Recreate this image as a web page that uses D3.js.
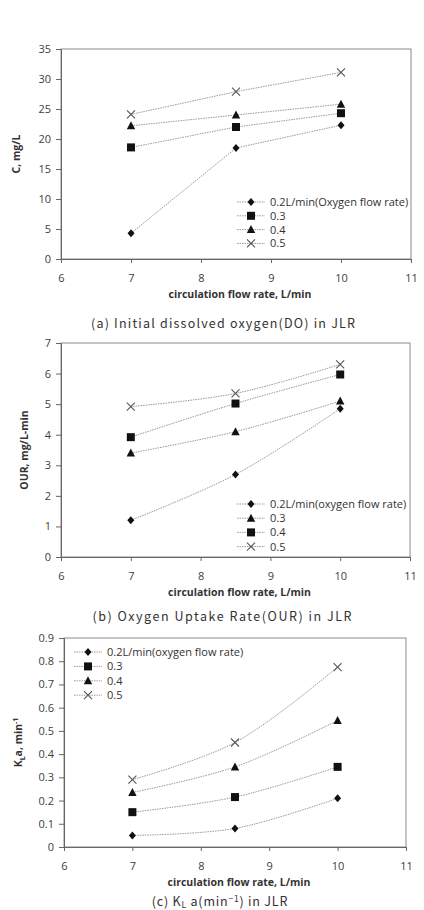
<!DOCTYPE html>
<html><head><meta charset="utf-8">
<script src="https://cdn.jsdelivr.net/npm/d3@7"></script>
<style>
body{margin:0;background:#fff;}
svg{display:block;}
.tick text{font-family:"Open Sans","Liberation Sans",sans-serif;font-size:11px;fill:#404040;}
.axtitle{font-family:"Open Sans","Liberation Sans",sans-serif;font-size:10.5px;font-weight:bold;fill:#333;}
.leg{font-family:"Open Sans","Liberation Sans",sans-serif;font-size:11px;fill:#333;}
.cap{font-family:"Noto Sans CJK KR","Noto Sans",sans-serif;font-size:12.5px;fill:#333;}
.cap tspan{font-family:"Noto Sans CJK KR","Noto Sans",sans-serif;}
</style>
</head><body>
<script>
const xValues = [7, 8.5, 10];
const xTicks = [6, 7, 8, 9, 10, 11];

// (a) Initial dissolved oxygen
const aLabels = ["0.2L/min(Oxygen flow rate)", "0.3", "0.4", "0.5"];
const aMarkers = ["diamond", "square", "triangle", "x"];
const a02 = [4.3, 18.5, 22.3];
const a03 = [18.6, 22.0, 24.3];
const a04 = [22.2, 24.0, 25.8];
const a05 = [24.1, 27.9, 31.1];
const aYTicks = [0, 5, 10, 15, 20, 25, 30, 35];

// (b) Oxygen uptake rate
const bLabels = ["0.2L/min(oxygen flow rate)", "0.3", "0.4", "0.5"];
const bMarkers = ["diamond", "triangle", "square", "x"];
const b02 = [1.2, 2.7, 4.85];
const b03 = [3.4, 4.1, 5.1];
const b04 = [3.92, 5.02, 5.97];
const b05 = [4.92, 5.35, 6.3];
const bYTicks = [0, 1, 2, 3, 4, 5, 6, 7];

// (c) KLa
const cLabels = ["0.2L/min(oxygen flow rate)", "0.3", "0.4", "0.5"];
const cMarkers = ["diamond", "square", "triangle", "x"];
const c02 = [0.05, 0.08, 0.21];
const c03 = [0.15, 0.215, 0.345];
const c04 = [0.235, 0.345, 0.545];
const c05 = [0.29, 0.45, 0.775];
const cYTicks = [0, 0.1, 0.2, 0.3, 0.4, 0.5, 0.6, 0.7, 0.8, 0.9];

const svg = d3.select("body").append("svg").attr("width", 424).attr("height", 910);

function marker(g, type, x, y) {
  if (type === "diamond") {
    g.append("path").attr("d", `M${x},${y-4}L${x+3.5},${y}L${x},${y+4}L${x-3.5},${y}Z`).attr("fill", "#111");
  } else if (type === "square") {
    g.append("rect").attr("x", x-4).attr("y", y-4).attr("width", 8).attr("height", 8).attr("fill", "#111");
  } else if (type === "triangle") {
    g.append("path").attr("d", `M${x},${y-4.5}L${x+4.2},${y+3.5}L${x-4.2},${y+3.5}Z`).attr("fill", "#111");
  } else {
    g.append("path").attr("d", `M${x-4},${y-4}L${x+4},${y+4}M${x-4},${y+4}L${x+4},${y-4}`).attr("stroke", "#555").attr("stroke-width", 1.1).attr("fill", "none");
  }
}

function chart(o) {
  const x = d3.scaleLinear().domain([6, 11]).range([o.left, o.right]);
  const y = d3.scaleLinear().domain([o.yTicks[0], o.yTicks[o.yTicks.length-1]]).range([o.bottom, o.top]);
  const g = svg.append("g");
  g.append("rect").attr("x", o.left).attr("y", o.top).attr("width", o.right-o.left).attr("height", o.bottom-o.top)
    .attr("fill", "none").attr("stroke", "#8a8a8a").attr("stroke-width", 1);
  const xa = g.append("g").attr("transform", `translate(0,${o.bottom})`)
    .call(d3.axisBottom(x).tickValues(xTicks).tickSize(4).tickPadding(11).tickFormat(d3.format("d")));
  const ya = g.append("g").attr("transform", `translate(${o.left},0)`)
    .call(d3.axisLeft(y).tickValues(o.yTicks).tickSize(5).tickPadding(5).tickFormat(o.fmt));
  [xa, ya].forEach(a => { a.select(".domain").attr("stroke", "#666"); a.selectAll("line").attr("stroke", "#666"); });
  g.append("text").attr("class", "axtitle").attr("x", (o.left+o.right)/2 + 4).attr("y", o.bottom + 39)
    .attr("text-anchor", "middle").text("circulation flow rate, L/min");
  const yt = g.append("text").attr("class", "axtitle").attr("transform", `translate(${o.ytx},${(o.top+o.bottom)/2}) rotate(-90)`)
    .attr("text-anchor", "middle");
  o.yTitle(yt);
  const line = d3.line().x((d, i) => x(xValues[i])).y(d => y(d)).curve(o.curve);
  o.series.forEach((s, k) => {
    g.append("path").attr("d", line(s)).attr("fill", "none").attr("stroke", "#999").attr("stroke-width", 1)
      .attr("stroke-dasharray", "1.5,1");
  });
  o.series.forEach((s, k) => {
    s.forEach((v, i) => marker(g, o.markers[k], x(xValues[i]), y(v)));
  });
  o.labels.forEach((lab, k) => {
    const ly = o.legY + k * o.legStep;
    g.append("line").attr("x1", o.legX).attr("x2", o.legX + 28).attr("y1", ly).attr("y2", ly)
      .attr("stroke", "#999").attr("stroke-dasharray", "1.5,1");
    marker(g, o.markers[k], o.legX + 14, ly);
    g.append("text").attr("class", "leg").attr("x", o.legX + 33).attr("y", ly + 4).text(lab);
  });
  const c = g.append("text").attr("class", "cap").attr("x", o.capX).attr("y", o.capY).attr("text-anchor", "middle");
  o.caption(c);
}

chart({
  left: 61, right: 411, top: 49, bottom: 259, yTicks: aYTicks, fmt: d3.format("d"),
  series: [a02, a03, a04, a05], markers: aMarkers, labels: aLabels, curve: d3.curveLinear,
  legX: 237, legY: 202, legStep: 13.8, ytx: 20,
  yTitle: t => t.text("C, mg/L"),
  capX: 223, capY: 328,
  caption: t => t.attr("textLength", 264).attr("lengthAdjust", "spacing").text("(a) Initial dissolved oxygen(DO) in JLR")
});

chart({
  left: 61, right: 410, top: 343, bottom: 557, yTicks: bYTicks, fmt: d3.format("d"),
  series: [b02, b03, b04, b05], markers: bMarkers, labels: bLabels, curve: d3.curveCatmullRom.alpha(0.5),
  legX: 237, legY: 504, legStep: 14.2, ytx: 28,
  yTitle: t => t.text("OUR, mg/L-min"),
  capX: 222, capY: 621,
  caption: t => t.attr("textLength", 259).attr("lengthAdjust", "spacing").text("(b) Oxygen Uptake Rate(OUR) in JLR")
});

chart({
  left: 64, right: 406, top: 638, bottom: 847, yTicks: cYTicks, fmt: d => d === 0 ? "0" : d3.format(".1f")(d),
  series: [c02, c03, c04, c05], markers: cMarkers, labels: cLabels, curve: d3.curveCatmullRom.alpha(0.5),
  legX: 74, legY: 652, legStep: 14.4, ytx: 22,
  yTitle: t => {
    t.append("tspan").text("K");
    t.append("tspan").attr("font-size", "7px").attr("dy", 3).text("L");
    t.append("tspan").attr("dy", -3).text("a, min");
    t.append("tspan").attr("font-size", "7px").attr("dy", -4).text("-1");
  },
  capX: 220, capY: 906,
  caption: t => {
    t.style("letter-spacing", "0.8px");
    t.append("tspan").text("(c)  K");
    t.append("tspan").attr("font-size", "8.5px").attr("dy", 2).text("L");
    t.append("tspan").attr("dy", -2).text("  a(min");
    t.append("tspan").attr("font-size", "8.5px").attr("dy", -4).text("−1");
    t.append("tspan").attr("dy", 4).text(")  in  JLR");
  }
});
</script>
</body></html>
